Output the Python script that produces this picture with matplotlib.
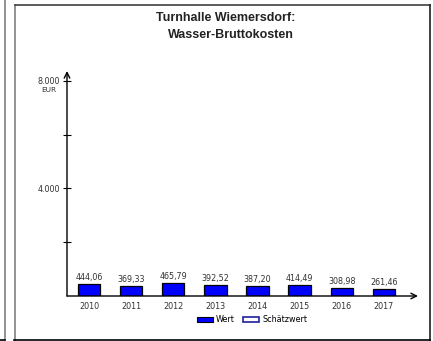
import matplotlib.pyplot as plt
from matplotlib.patches import Patch
from matplotlib.lines import Line2D

plt.rcParams['font.family'] = ['DejaVu Sans']

years = ['2010', '2011', '2012', '2013', '2014', '2015', '2016', '2017']
values = [444.06, 369.33, 465.79, 392.52, 387.20, 414.49, 308.98, 261.46]
value_labels = ['444,06', '369,33', '465,79', '392,52', '387,20', '414,49', '308,98', '261,46']
yticks = [2000, 4000, 6000, 8000]
ytick_labels = ['', '4.000', '', '8.000']

W, H = 433, 341
fig = plt.figure(figsize=(W / 100, H / 100), dpi=100)
small = 5.8


def fx(px):
    return px / W


def fy(py):
    return 1 - py / H


# panel frames
fig.add_artist(Line2D([fx(4.5), fx(4.5)], [fy(0), fy(340)], color='#808080', lw=1.2))
fig.add_artist(Line2D([fx(0), fx(5)], [fy(340), fy(340)], color='black', lw=1.2))
fig.add_artist(Line2D([fx(14.5), fx(14.5)], [fy(5), fy(341)], color='#808080', lw=1.2))
fig.add_artist(Line2D([fx(14.5), fx(430)], [fy(5), fy(5)], color='#404040', lw=1.2))
fig.add_artist(Line2D([fx(429.5), fx(429.5)], [fy(5), fy(341)], color='#202020', lw=1.2))
fig.add_artist(Line2D([fx(14), fx(430)], [fy(340), fy(340)], color='black', lw=1.2))

ax = fig.add_axes([fx(67), fy(296), fx(418) - fx(67), fy(71) - fy(296)])
x = list(range(len(years)))
xmin, xmax = -0.522, 7.81
ymin, ymax = 0, 8370
ax.set_xlim(xmin, xmax)
ax.set_ylim(ymin, ymax)
ax.patch.set_alpha(0)
for s in ax.spines.values():
    s.set_visible(False)

ax.bar(x, values, width=0.53, color='#0000ff', edgecolor='black', linewidth=0.9, zorder=3)
for xi, v, lab in zip(x, values, value_labels):
    ax.annotate(lab, (xi, v), xytext=(0, 1.5), textcoords='offset points',
                ha='center', va='bottom', fontsize=small, color='#333333')

# axes with open arrows
ax.annotate('', xy=(xmax, 0), xytext=(xmin, 0), annotation_clip=False,
            arrowprops=dict(arrowstyle='->', color='black', lw=1.0, shrinkA=0, shrinkB=0,
                            mutation_scale=10))
ax.annotate('', xy=(xmin, ymax), xytext=(xmin, 0), annotation_clip=False,
            arrowprops=dict(arrowstyle='->', color='black', lw=1.0, shrinkA=0, shrinkB=0,
                            mutation_scale=10))

ax.set_xticks(x)
ax.set_xticklabels(years, fontsize=small, color='#333333')
ax.tick_params(axis='x', length=0, pad=4.5)
ax.set_yticks(yticks)
ax.set_yticklabels(ytick_labels, fontsize=small, color='#333333')
ax.tick_params(axis='y', direction='inout', length=6, width=0.8, pad=2)
fig.text(fx(48.5), fy(89.5), 'EUR', ha='center', va='center', fontsize=5.3, color='#333333')

fig.text(fx(226), fy(18), 'Turnhalle Wiemersdorf:', ha='center', va='center',
         fontsize=9, fontweight='bold', color='#222222', family='Liberation Sans')
fig.text(fx(231), fy(35), 'Wasser-Bruttokosten', ha='center', va='center',
         fontsize=9, fontweight='bold', color='#222222', family='Liberation Sans')

handles = [Patch(facecolor='#0000ff', edgecolor='black', lw=0.8),
           Patch(facecolor='white', edgecolor='#2020a0', lw=1.2)]
fig.legend(handles, ['Wert', 'Schätzwert'], loc='center', bbox_to_anchor=(fx(252), fy(320)),
           ncol=2, frameon=False, fontsize=small, handlelength=2.0, handleheight=0.6,
           handletextpad=0.4, columnspacing=1.0, borderpad=0)

fig.savefig('out.png', dpi=100)
